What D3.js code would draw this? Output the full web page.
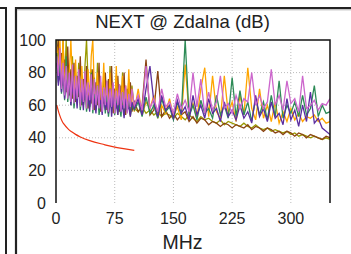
<!DOCTYPE html>
<html lang="en">
<head>
<meta charset="UTF-8">
<title>NEXT @ Zdalna</title>
<script src="https://cdn.jsdelivr.net/npm/d3@7/dist/d3.min.js"></script>
<style>
  body { margin: 0; background: #fff; }
  text { font-family: "Liberation Sans", Arial, sans-serif; fill: #222; }
</style>
</head>
<body>
<svg id="chart" width="351" height="254"></svg>
<script>
// frequencies (MHz)
const freqs = [1,3,5,7,9,11,13,15,17,19,21,23,25,27,29,31,33,35,37,39,41,43,45,47,49,
  51,53,55,57,59,61,63,65,67,69,71,73,75,77,79,81,83,85,87,89,91,93,95,97,
  100,105,110,115,120,125,130,135,140,145,150,155,160,165,170,175,180,185,190,195,
  200,205,210,215,220,225,230,235,240,245,250,255,260,265,270,275,280,285,290,295,
  300,305,310,315,320,325,330,335,340,345,350];

// NEXT per pair combination (dB)
const olive = [100,88,94,76,100,72,100,68,84,66,90,64,80,62,86,65,76,60,84,100,74,59,82,62,77,
  57,86,60,72,56,80,58,75,55,84,57,70,59,78,54,73,56,80,55,70,58,76,53,72,
  58,56,59,55,57,54,56,53,55,54,52,55,53,51,54,52,50,53,51,52,
  50,49,51,48,50,49,48,47,49,47,46,48,46,45,46,44,45,44,43,44,
  42,43,41,42,41,40,41,40,39,40,39];
const brown = [90,100,78,92,72,88,68,96,66,82,64,86,62,78,65,90,60,76,63,84,58,72,61,82,57,
  74,60,86,56,70,61,80,57,76,59,84,55,70,58,78,56,72,60,80,54,70,58,74,56,
  62,56,60,88,54,57,81,53,57,52,55,51,54,56,50,53,49,52,51,48,
  50,49,47,49,48,46,48,47,46,48,45,47,46,44,46,45,43,44,42,44,
  43,41,43,42,40,42,41,40,39,41,40];
const orange = [96,82,100,74,100,70,86,66,80,100,72,64,88,62,78,60,84,63,76,58,82,61,90,100,70,
  60,80,57,74,62,86,58,72,56,80,60,70,55,84,58,68,61,78,55,72,57,82,54,70,
  56,70,54,62,58,66,52,60,55,64,53,59,51,85,54,61,52,70,83,53,
  78,56,52,78,55,62,50,66,54,83,58,51,70,52,60,50,62,49,56,50,
  58,51,55,50,53,52,54,50,52,49,50];
const green = [92,74,88,67,81,63,90,62,74,60,78,58,70,61,76,57,66,60,73,56,64,59,80,55,67,
  58,72,54,63,57,70,55,66,53,62,58,71,54,64,56,60,53,68,55,61,57,65,54,60,
  57,62,53,65,55,60,52,64,56,59,51,62,54,100,53,60,51,63,55,58,
  52,66,54,60,52,77,53,69,54,62,50,64,54,62,51,66,53,75,52,60,
  55,62,53,66,54,58,72,53,60,55,56];
const purple = [86,72,80,68,83,64,76,66,79,60,74,63,70,58,77,61,68,57,73,62,66,56,71,59,64,
  55,69,60,63,54,67,57,62,55,70,53,65,58,61,54,66,56,60,52,64,57,59,53,62,
  58,64,54,70,84,62,53,66,57,60,52,63,55,59,51,66,54,60,52,64,
  55,58,50,62,53,57,51,60,52,56,49,66,53,58,50,62,52,55,48,64,
  51,57,47,60,50,68,49,52,46,44,42];
const pink = [90,78,95,70,86,66,84,64,80,62,85,61,78,64,82,59,76,62,81,58,74,63,79,57,76,
  60,72,58,78,56,71,60,75,56,70,59,74,55,69,60,73,56,68,58,72,55,67,59,70,
  60,66,57,84,58,64,56,70,59,62,55,67,58,63,56,80,59,76,55,68,
  57,62,78,58,61,55,66,58,64,62,80,60,66,58,62,82,60,66,57,75,
  61,64,56,78,58,60,63,57,61,60,64];

// limit line
const limitFreqs = [1,4,8,10,16,20,25,31.25,62.5,100];
const limitVals = [60,54.8,50,48.5,45.2,43.7,42.1,40.5,35.7,32.3];

const xTicks = [0,75,150,225,300];
const yTicks = [0,20,40,60,80,100];

const series = [
  {vals: olive, color: "#999900"},
  {vals: brown, color: "#8b4513"},
  {vals: orange, color: "#ffa500"},
  {vals: green, color: "#2e8b57"},
  {vals: purple, color: "#5b2da0"},
  {vals: pink, color: "#cc66cc"}
];

const svg = d3.select("#chart");
const m = {left: 56, right: 330, top: 40, bottom: 203};

const x = d3.scaleLinear().domain([0, 350]).range([m.left, m.right]);
const y = d3.scaleLinear().domain([0, 100]).range([m.bottom, m.top]);

// outer panel frames
svg.append("path").attr("d", "M0,8H6V254").attr("fill", "none").attr("stroke", "#222").attr("stroke-width", 2);
svg.append("path").attr("d", "M16,254V8H351").attr("fill", "none").attr("stroke", "#222").attr("stroke-width", 2.2);
svg.append("line").attr("x1", 17).attr("x2", 351).attr("y1", 9.8).attr("y2", 9.8).attr("stroke", "#aaa").attr("stroke-width", 1);

// grid
svg.append("g").selectAll("line").data(xTicks.filter(d => d > 0)).enter().append("line")
  .attr("x1", d => x(d)).attr("x2", d => x(d)).attr("y1", m.top).attr("y2", m.bottom)
  .attr("stroke", "#bbb").attr("stroke-dasharray", "1,2");
svg.append("g").selectAll("line").data(yTicks.filter(d => d > 0 && d < 100)).enter().append("line")
  .attr("x1", m.left).attr("x2", m.right).attr("y1", d => y(d)).attr("y2", d => y(d))
  .attr("stroke", "#bbb").attr("stroke-dasharray", "1,2");

svg.append("clipPath").attr("id", "clip").append("rect")
  .attr("x", m.left).attr("y", m.top).attr("width", m.right - m.left).attr("height", m.bottom - m.top);

const plot = svg.append("g").attr("clip-path", "url(#clip)");
const line = d3.line().x(d => x(d[0])).y(d => y(d[1]));

series.forEach(function(s) {
  plot.append("path")
    .datum(s.vals.map((v, i) => [freqs[i], v]))
    .attr("d", line)
    .attr("fill", "none")
    .attr("stroke", s.color)
    .attr("stroke-width", 1.3);
});

plot.append("path")
  .datum(limitVals.map((v, i) => [limitFreqs[i], v]))
  .attr("d", line.curve(d3.curveMonotoneX))
  .attr("fill", "none")
  .attr("stroke", "#ee3311")
  .attr("stroke-width", 1.2);

// plot frame (no bottom edge)
svg.append("path")
  .attr("d", `M${m.left},${m.bottom}V${m.top}H${m.right}V${m.bottom}`)
  .attr("fill", "none").attr("stroke", "#111").attr("stroke-width", 1.5);

// tick labels
svg.append("g").selectAll("text").data(yTicks).enter().append("text")
  .attr("x", 46).attr("y", d => y(d) + 5.5)
  .attr("text-anchor", "end").attr("font-size", 16)
  .text(d => d);
svg.append("g").selectAll("text").data(xTicks).enter().append("text")
  .attr("x", d => x(d)).attr("y", 224)
  .attr("text-anchor", "middle").attr("font-size", 16)
  .text(d => d);

svg.append("text").attr("x", 182.5).attr("y", 28).attr("text-anchor", "middle")
  .attr("font-size", 18.5).text("NEXT @ Zdalna (dB)");
svg.append("text").attr("x", 182.5).attr("y", 249).attr("text-anchor", "middle")
  .attr("font-size", 19.5).text("MHz");
</script>
</body>
</html>
